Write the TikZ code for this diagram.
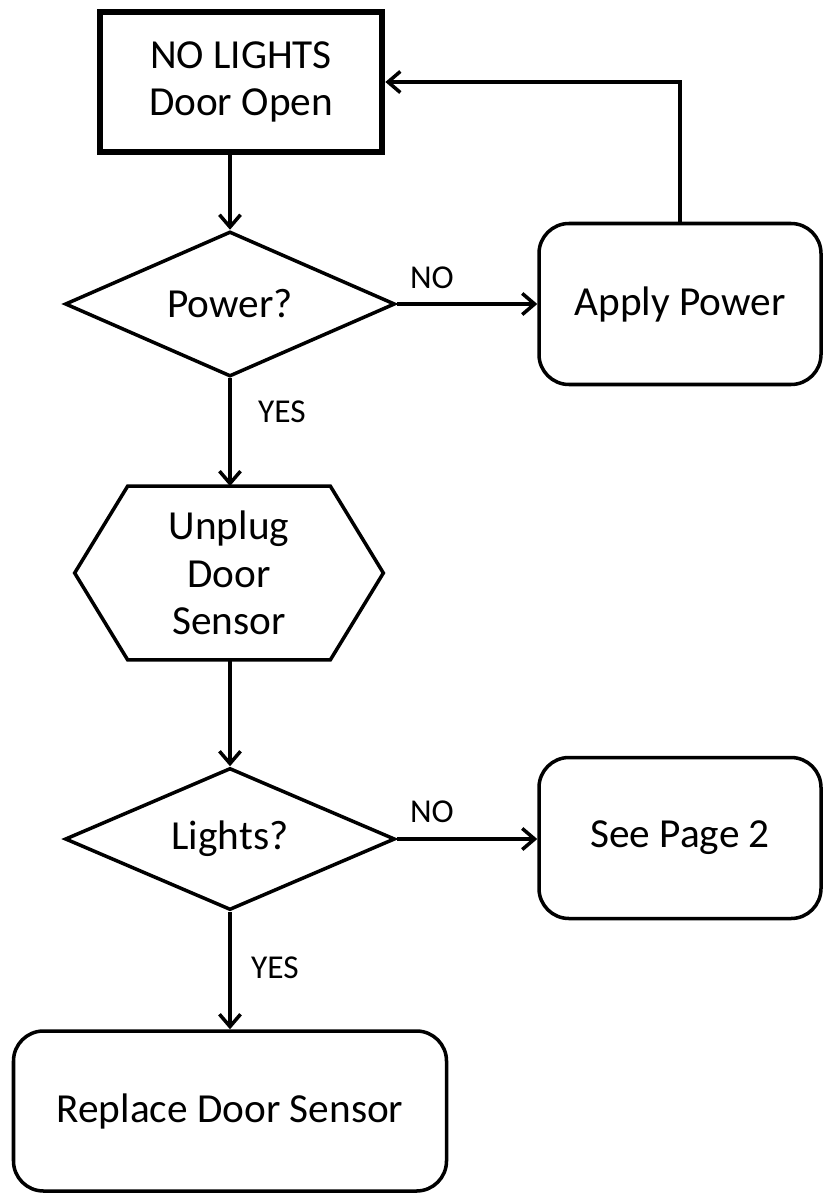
\documentclass[tikz,border=0pt]{standalone}
\usepackage{fontspec}
\setmainfont{Carlito}
\usepackage{tikz}
\usetikzlibrary{shapes.geometric, arrows.meta, positioning, calc}

\begin{document}
\begin{tikzpicture}[
  every node/.style={font=\fontsize{23.5}{27}\selectfont},
  ln/.style ={line width=2pt},
  arr/.style={ln, -{Straight Barb[length=7pt,width=12pt,line width=2pt]}},
  startbox/.style={rectangle, draw, line width=3.8pt, minimum width=5.64cm,
                   minimum height=2.8cm, align=center},
  actbox/.style={rectangle, draw, ln, rounded corners=0.6cm,
                 minimum width=5.64cm, minimum height=3.22cm, align=center},
  dec/.style={diamond, draw, ln, aspect=2.2, minimum width=6.6cm,
              minimum height=2.9cm, inner sep=0pt},
  hexa/.style={minimum width=6.16cm, minimum height=3.46cm, align=center},
  lbl/.style={font=\fontsize{19}{22}\selectfont}
]
\useasboundingbox (0,0) rectangle (16.46,-23.88);

%% nodes
\node[startbox] (top) at (4.82,-1.64) {NO LIGHTS\\Door Open};
\node[dec] (pw) at (4.6,-6.08) {Power?};
\node[actbox] (ap) at (13.6,-6.08) {Apply Power};
\node[hexa] (hx) at (4.58,-11.46) {Unplug\\Door\\Sensor};
\node[dec, minimum height=2.84cm] (lt) at (4.6,-16.78) {Lights?};
\node[actbox] (sp) at (13.6,-16.76) {See Page 2};
\node[actbox, minimum width=8.66cm, minimum height=3.2cm] (rp) at (4.6,-22.22)
  {Replace Door Sensor};

%% hexagon outline
\draw[ln, line join=miter] (hx.west) -- ($(hx.north west)+(1.06,0)$)
  -- ($(hx.north east)+(-1.06,0)$) -- (hx.east)
  -- ($(hx.south east)+(-1.06,0)$) -- ($(hx.south west)+(1.06,0)$) -- cycle;

%% connectors
\draw[arr] (pw.north |- top.south) -- (pw.north);
\draw[arr] (pw.east) -- (pw.east -| ap.west);
\draw[arr] (ap.north) |- (top.east);
\draw[arr] (pw.south) -- (pw.south |- hx.north);
\draw[arr] (pw.south |- hx.south) -- (lt.north);
\draw[arr] (lt.east) -- (lt.east -| sp.west);
\draw[arr] (lt.south) -- (rp.north -| lt.south);

%% edge labels
\node[lbl] (no1)  at (8.64,-5.56)  {NO};
\node[lbl] (yes1) at (5.64,-8.24)  {YES};
\node[lbl] (no2)  at (8.64,-16.24) {NO};
\node[lbl] (yes2) at (5.5,-19.36)  {YES};
\end{tikzpicture}
\end{document}
